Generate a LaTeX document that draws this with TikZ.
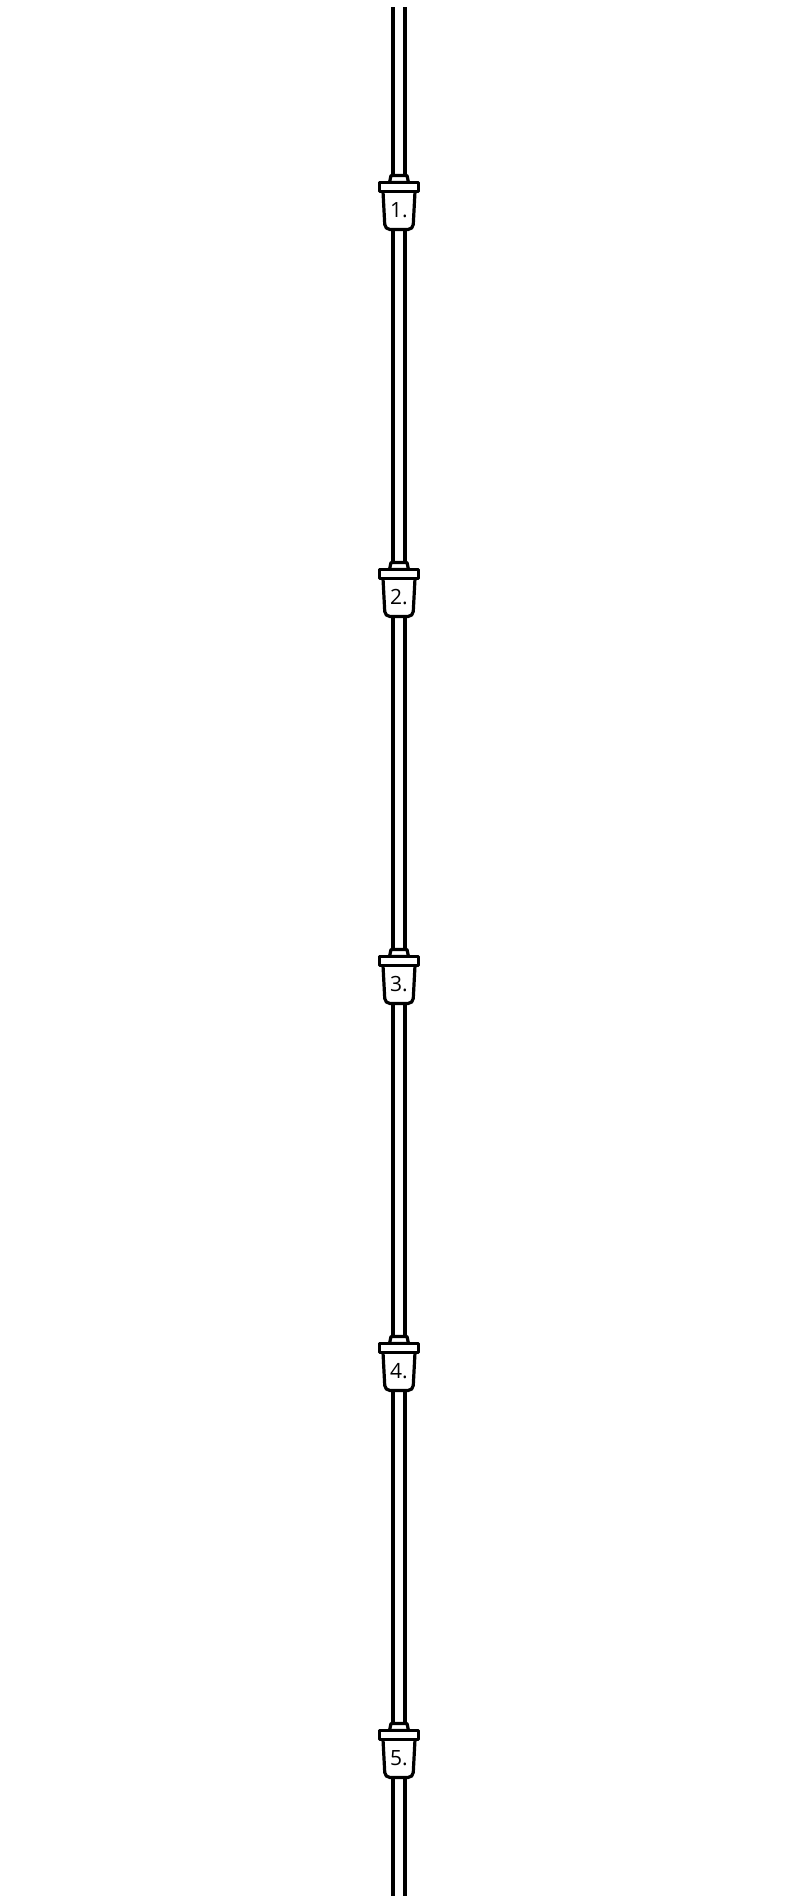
\documentclass[tikz,border=0pt]{standalone}
\usepackage{fontspec}
\setmainfont{Open Sans}
\usetikzlibrary{backgrounds}

\begin{document}
\begin{tikzpicture}[
      x=1pt, y=-1pt,
      pipe/.style={draw=black, line width=4.5pt, double=white, double distance=7.5pt},
      part/.style={draw=black, fill=white, line width=3.2pt, line join=round},
      num/.style={inner sep=1pt, font=\fontsize{21}{21}\selectfont}
    ]
      \useasboundingbox (0,0) rectangle (800,1896);
      \coordinate (top) at (399,7);
      \coordinate (bottom) at (399,1896);
      \foreach \i in {1,...,5}
        \node[num] (c\i) at (399,{210+387*(\i-1)}) {\i.};
      \begin{scope}[on background layer]
        \draw[pipe] (top) -- (c1) -- (c2) -- (c3) -- (c4) -- (c5) -- (bottom);
        \foreach \i in {1,...,5} {
          \begin{scope}[shift={(c\i.center)}]
            % neck, body, flange
            \filldraw[part] (-8,-34.5) -- (-9.5,-27.5) -- (9.5,-27.5) -- (8,-34.5) -- cycle;
            \filldraw[part, rounded corners=5pt] (-16,-18.5) -- (-14,19.5) -- (14,19.5) -- (16,-18.5);
            \filldraw[part] (-19.5,-27.5) rectangle (19.5,-18.5);
          \end{scope}
        }
      \end{scope}
    \end{tikzpicture}
\end{document}
